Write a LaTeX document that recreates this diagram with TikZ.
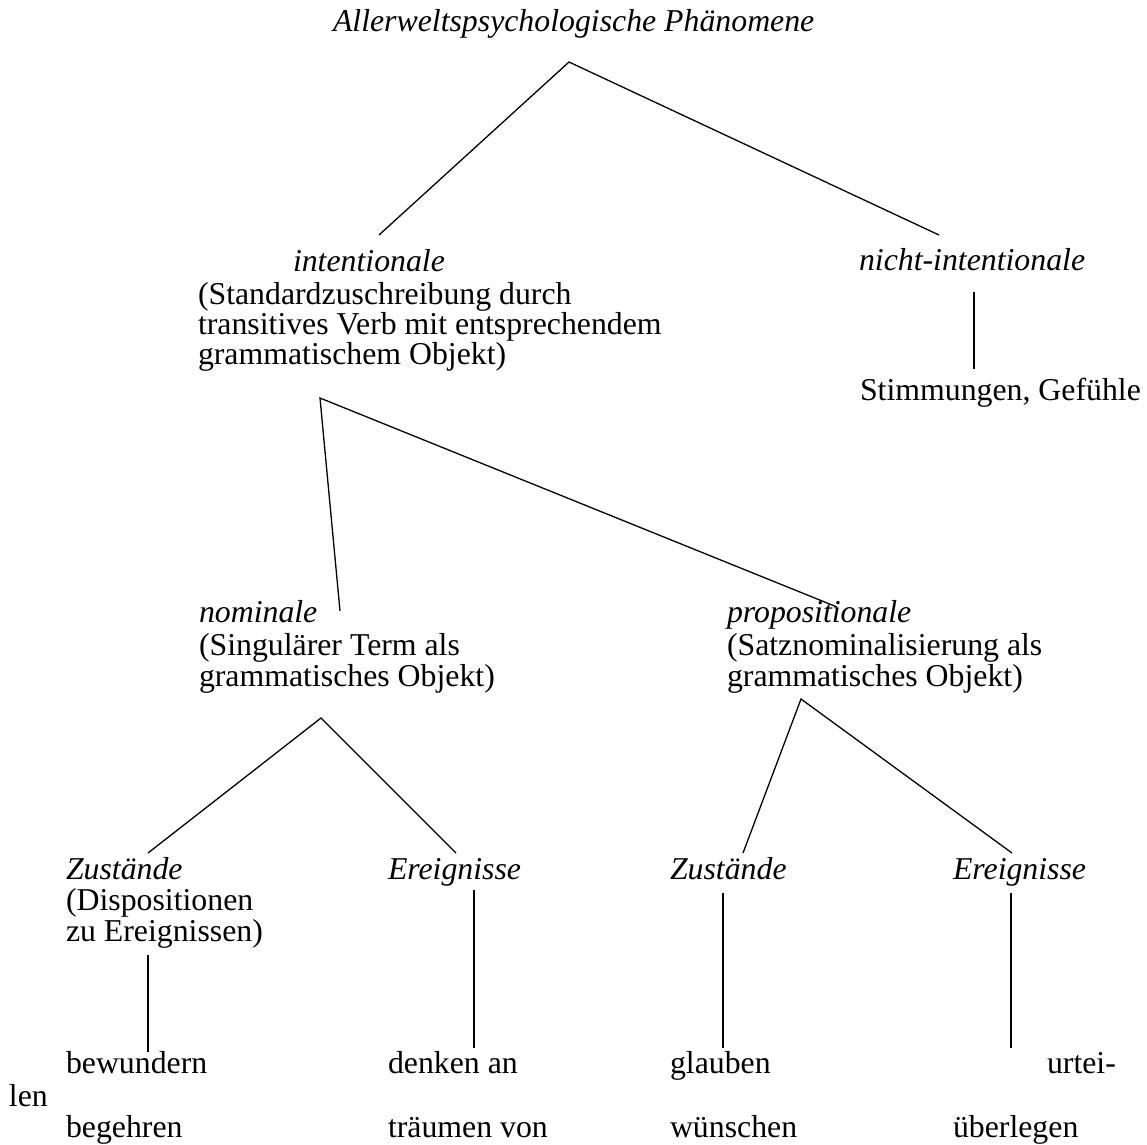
\documentclass[tikz,border=0pt]{standalone}
\usepackage{fontspec}
\setmainfont{Liberation Serif}
\begin{document}
\begin{tikzpicture}[x=1pt,y=-1pt,
  lbl/.style={anchor=base west,inner sep=0pt,outer sep=0pt,font=\fontsize{31.8}{31.8}\selectfont},
  ital/.style={lbl,font=\fontsize{31.8}{31.8}\selectfont\itshape},
  edge/.style={line width=1.3pt}]
\useasboundingbox (0,0) rectangle (1147,1144);
% level 0
\node[ital] (root) at (333,31) {Allerweltspsychologische Phänomene};
% level 1
\node[ital] (intent) at (293,271) {intentionale};
\node[lbl] (intentA) at (198,304) {(Standardzuschreibung durch};
\node[lbl] (intentB) at (198,334) {transitives Verb mit entsprechendem};
\node[lbl] (intentC) at (198,364) {grammatischem Objekt)};
\node[ital] (nonint) at (859,270) {nicht-intentionale};
\node[lbl] (stimm) at (860,400) {Stimmungen, Gefühle};
% level 2
\node[ital] (nom) at (199,622) {nominale};
\node[lbl] (nomA) at (199,655) {(Singulärer Term als};
\node[lbl] (nomB) at (199,686) {grammatisches Objekt)};
\node[ital] (prop) at (727,622) {propositionale};
\node[lbl] (propA) at (727,655) {(Satznominalisierung als};
\node[lbl] (propB) at (727,686) {grammatisches Objekt)};
% level 3
\node[ital] (zl) at (66,879) {Zustände};
\node[lbl] (zlA) at (66,910) {(Dispositionen};
\node[lbl] (zlB) at (66,941) {zu Ereignissen)};
\node[ital] (el) at (388,879) {Ereignisse};
\node[ital] (zr) at (670,879) {Zustände};
\node[ital] (er) at (953,879) {Ereignisse};
% level 4
\node[lbl] (bew) at (66,1073) {bewundern};
\node[lbl] (den) at (388,1073) {denken an};
\node[lbl] (gla) at (670,1073) {glauben};
\node[lbl] (urt) at (1047,1073) {urtei-};
\node[lbl] (len) at (9,1106) {len};
\node[lbl] (beg) at (66,1137) {begehren};
\node[lbl] (tra) at (388,1137) {träumen von};
\node[lbl] (wun) at (670,1137) {wünschen};
\node[lbl] (ueb) at (953,1137) {überlegen};
% connector end points
\coordinate (rootB) at (569,62);
\coordinate (intentT) at (379,235);
\coordinate (nonintT) at (939,235);
\coordinate (nonintB) at (974,292);
\coordinate (stimmT) at (974,369);
\coordinate (intentX) at (320,398);
\coordinate (nomT) at (340,611);
\coordinate (propT) at (837,607);
\coordinate (nomX) at (321,718);
\coordinate (zlT) at (148,853);
\coordinate (elT) at (456,853);
\coordinate (propX) at (801,699);
\coordinate (zrT) at (743,853);
\coordinate (erT) at (1012,853);
\coordinate (zlX) at (148,955);
\coordinate (bewT) at (148,1052);
\coordinate (elX) at (474,890);
\coordinate (denT) at (474,1048);
\coordinate (zrX) at (723,893);
\coordinate (glaT) at (723,1048);
\coordinate (erX) at (1011,893);
\coordinate (urtT) at (1011,1048);
% connectors
\draw[edge] (intentT) -- (rootB) -- (nonintT);
\draw[edge] (nonintB) -- (stimmT);
\draw[edge] (nomT) -- (intentX) -- (propT);
\draw[edge] (zlT) -- (nomX) -- (elT);
\draw[edge] (zrT) -- (propX) -- (erT);
\draw[edge] (zlX) -- (bewT);
\draw[edge] (elX) -- (denT);
\draw[edge] (zrX) -- (glaT);
\draw[edge] (erX) -- (urtT);
\end{tikzpicture}
\end{document}
